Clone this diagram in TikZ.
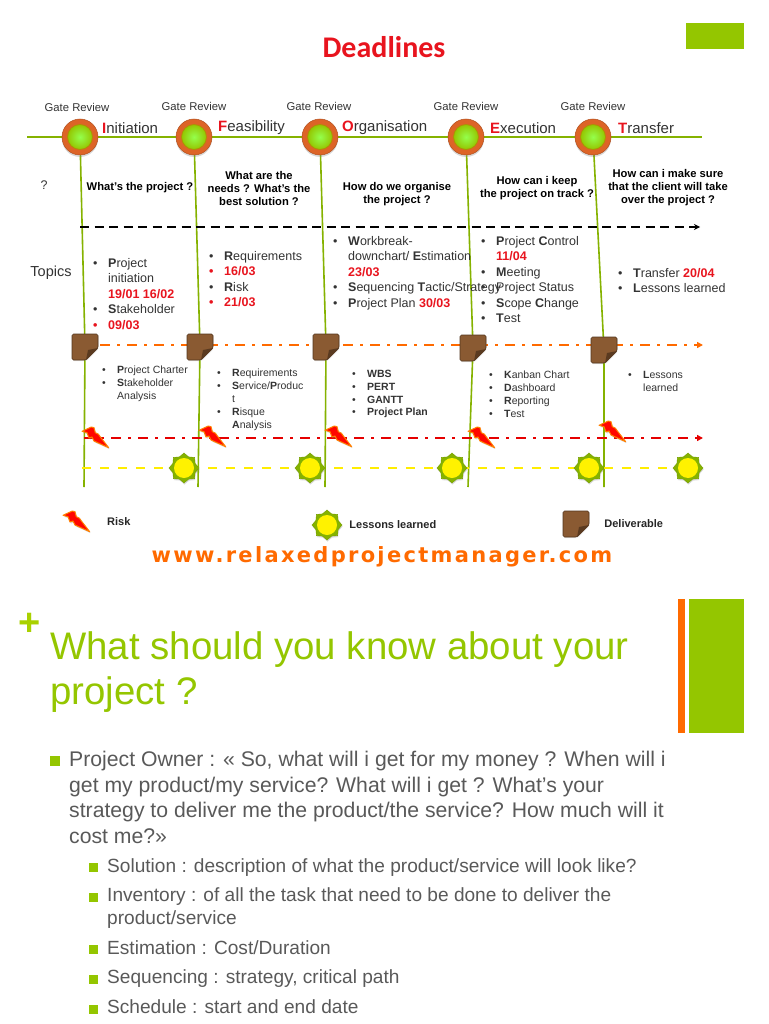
\documentclass[tikz,border=0pt]{standalone}
\usepackage{fontspec}
\setmainfont{Liberation Sans}
\newfontfamily\titlefont{Carlito}
\newfontfamily\webfont[LetterSpace=11]{DejaVu Sans}
\usetikzlibrary{shapes.geometric,positioning,backgrounds,arrows.meta,shadows}

\definecolor{themegreen}{HTML}{94C600}
\definecolor{themeorange}{HTML}{FF6A00}
\definecolor{gateorange}{HTML}{DD6427}
\definecolor{docbrown}{HTML}{8A5A32}
\definecolor{bodygray}{HTML}{595959}
\definecolor{datered}{HTML}{E8141E}

\newcommand{\itm}{\makebox[15pt][l]{\textbullet}}
\newcommand{\ind}{\hspace*{15pt}}
\newcommand{\dte}[1]{\textcolor{datered}{\textbf{#1}}}
\newcommand{\rdl}[1]{\textcolor{datered}{\textbf{#1}}}

\tikzset{
  gatelabel/.style={font=\fontsize{11.3}{13}\selectfont, text=black!80, inner sep=0pt},
  phaselabel/.style={font=\fontsize{15}{17}\selectfont, text=black!80, inner sep=0pt, anchor=west},
  question/.style={font=\fontsize{11.2}{13}\selectfont\bfseries, align=center, inner sep=0pt},
  topics/.style={font=\fontsize{12.5}{15.5}\selectfont, text=black!80, align=left, anchor=north west, inner sep=0pt},
  outputs/.style={font=\fontsize{10.5}{12.8}\selectfont, text=black!80, align=left, anchor=north west, inner sep=0pt},
  legendtext/.style={font=\fontsize{11}{13}\selectfont\bfseries, text=black!85, inner sep=0pt},
  phaseline/.style={themegreen!90!black, line width=1.6pt},
  bodytext/.style={font=\fontsize{21.2}{25.7}\selectfont, text=bodygray, align=left, anchor=north west, inner sep=0pt},
  subtext/.style={font=\fontsize{19.1}{23.5}\selectfont, text=bodygray, align=left, anchor=north west, inner sep=0pt},
  sqbullet/.style={fill=themegreen, minimum size=10pt, inner sep=0pt},
  sqsmall/.style={fill=themegreen, minimum size=9pt, inner sep=0pt},
  gate/.pic={
    \node[circle, minimum size=36pt, inner sep=0pt, fill=gateorange, draw=gateorange!80!black, line width=.5pt,
      drop shadow={opacity=.3, shadow xshift=0pt, shadow yshift=-2pt}] (-ring) {};
    \node[circle, minimum size=25pt, inner sep=0pt, inner color=green!60!yellow!70!white, outer color=themegreen,
      draw=olive!70!orange, line width=.8pt] (-core) {};
  },
  deliverable/.pic={
    \node[minimum size=26pt, inner sep=0pt] (-box) {};
    \fill[docbrown, draw=docbrown!60!black, line width=.6pt, rounded corners=1.5pt, drop shadow={opacity=.2, shadow xshift=.5pt, shadow yshift=-1pt}]
      (-13,-13) -- (13,-13) -- (13,1) -- (1,13) -- (-13,13) -- cycle;
    \fill[docbrown!65!black] (13,1) -- (1,13) -- (3,3) -- cycle;
  },
  bolt/.pic={
    \fill[red!95!orange, draw=orange, line width=1pt, line join=round, drop shadow={opacity=.3, shadow xshift=1pt, shadow yshift=-1.5pt}]
      (-13,-5.7) -- (-3.7,-10) -- (-1,-9.3) -- (.3,-4.3) -- (3.5,-2.7) -- (5,-.5) -- (13.7,10.7)
      -- (-1,4) -- (-3,0) -- (-6,1) -- (-8,-4.3) -- cycle;
  },
  sun/.pic={
    \node[star, star points=8, star point ratio=1.25, minimum size=30pt, inner sep=0pt, fill=themegreen!90!black,
      draw=themegreen!80!black, line width=.4pt, drop shadow={opacity=.3, shadow xshift=.5pt, shadow yshift=-1.5pt}] (-star) {};
    \node[circle, minimum size=20pt, inner sep=0pt, fill=yellow] (-disc) {};
  },
}

\begin{document}
\begin{tikzpicture}[x=1pt, y=-1pt]
\useasboundingbox (0,0) rectangle (768,1024);

% === Header ===
\node[font=\titlefont\fontsize{30}{32}\selectfont\bfseries, text=datered, inner sep=0pt] (title) at (384,47) {Deadlines};
\node[fill=themegreen, minimum width=58pt, minimum height=26pt, inner sep=0pt] (cornerbox) at (715,36) {};

% === Gates ===
\pic (g1) at (80,137) {gate};
\pic (g2) at (194,137) {gate};
\pic (g3) at (320,137) {gate};
\pic (g4) at (466,137) {gate};
\pic (g5) at (593,137) {gate};

\node[gatelabel] (gl1) at (77,107) {Gate Review};
\node[gatelabel] (gl2) at (194,106) {Gate Review};
\node[gatelabel] (gl3) at (319,106) {Gate Review};
\node[gatelabel] (gl4) at (466,106) {Gate Review};
\node[gatelabel] (gl5) at (593,106) {Gate Review};

\node[phaselabel] (ph1) at (102,128) {\textcolor{datered}{\textbf{I}}nitiation};
\node[phaselabel] (ph2) at (218,128) {\textcolor{datered}{\textbf{F}}easibility};
\node[phaselabel] (ph3) at (342,128) {\textcolor{datered}{\textbf{O}}rganisation};
\node[phaselabel] (ph4) at (490,128) {\textcolor{datered}{\textbf{E}}xecution};
\node[phaselabel] (ph5) at (618,128) {\textcolor{datered}{\textbf{T}}ransfer};

% === Questions ===
\node[font=\fontsize{12.5}{14}\selectfont, text=black!80, inner sep=0pt] (qmark) at (44,185) {?};
\node[question] (q1) at (140,188) {What's the project ?};
\node[question] (q2) at (259,188) {What are the\\needs ? What's the\\best solution ?};
\node[question] (q3) at (397,194) {How do we organise\\the project ?};
\node[question] (q4) at (537,188) {How can i keep\\the project on track ?};
\node[question] (q5) at (668,188) {How can i make sure\\that the client will take\\over the project ?};

% === Topics ===
\node[font=\fontsize{14.5}{16}\selectfont, text=black!80, inner sep=0pt] (topiclabel) at (51,273) {Topics};

\node[topics] (t1) at (93,258) {\itm\textbf{P}roject\\\ind initiation\\\ind\dte{19/01 16/02}\\\itm\textbf{S}takeholder\\\rdl{\itm 09/03}};
\node[topics] (t2) at (209,251) {\itm\textbf{R}equirements\\\rdl{\itm 16/03}\\\itm\textbf{R}isk\\\rdl{\itm 21/03}};
\node[topics] (t3) at (333,236) {\itm\textbf{W}orkbreak-\\\ind downchart/ \textbf{E}stimation\\\ind\dte{23/03}\\\itm\textbf{S}equencing \textbf{T}actic/Strategy\\\itm\textbf{P}roject Plan \dte{30/03}};
\node[topics] (t4) at (481,236) {\itm\textbf{P}roject \textbf{C}ontrol\\\ind\dte{11/04}\\\itm\textbf{M}eeting\\\itm Project Status\\\itm\textbf{S}cope \textbf{C}hange\\\itm\textbf{T}est};
\node[topics] (t5) at (618,268) {\itm\textbf{T}ransfer \dte{20/04}\\\itm\textbf{L}essons learned};

% === Deliverables ===
\pic (d1) at (85,347) {deliverable};
\pic (d2) at (200,347) {deliverable};
\pic (d3) at (326,347) {deliverable};
\pic (d4) at (473,348) {deliverable};
\pic (d5) at (604,350) {deliverable};

\node[outputs] (o1) at (102,366) {\itm\textbf{P}roject Charter\\\itm\textbf{S}takeholder\\\ind Analysis};
\node[outputs] (o2) at (217,369) {\itm\textbf{R}equirements\\\itm\textbf{S}ervice/\textbf{P}roduc\\\ind t\\\itm\textbf{R}isque\\\ind\textbf{A}nalysis};
\node[outputs] (o3) at (352,370) {\itm\textbf{WBS}\\\itm\textbf{PERT}\\\itm\textbf{GANTT}\\\itm\textbf{Project Plan}};
\node[outputs] (o4) at (489,371) {\itm\textbf{K}anban Chart\\\itm\textbf{D}ashboard\\\itm\textbf{R}eporting\\\itm\textbf{T}est};
\node[outputs] (o5) at (628,371) {\itm\textbf{L}essons\\\ind learned};

% === Risks and lessons ===
\pic (b1) at (95,437) {bolt};
\pic (b2) at (212,436) {bolt};
\pic (b3) at (338,436) {bolt};
\pic (b4) at (481,437) {bolt};
\pic (b5) at (612,431) {bolt};

\pic (s1) at (184,468) {sun};
\pic (s2) at (310,468) {sun};
\pic (s3) at (452,468) {sun};
\pic (s4) at (589,468) {sun};
\pic (s5) at (688,468) {sun};

% === Connectors, behind the icons ===
\coordinate (phStart) at (27,137);
\coordinate (phEnd) at (702,137);
\coordinate (e1) at (84,487);
\coordinate (e2) at (198,487);
\coordinate (e3) at (325,487);
\coordinate (e4) at (468,487);
\coordinate (e5) at (604,487);
\coordinate (blackStart) at (80,227);
\coordinate (blackEnd) at (700,227);
\coordinate (orangeStart) at (100,345);
\coordinate (orangeEnd) at (703,345);
\coordinate (redStart) at (84,438);
\coordinate (redEnd) at (703,438);
\coordinate (yellowStart) at (82,468);

\begin{scope}[on background layer]
\draw[phaseline] (phStart) -- (phEnd);
\draw[phaseline] (g1-ring) -- (d1-box) -- (e1);
\draw[phaseline] (g2-ring) -- (d2-box) -- (e2);
\draw[phaseline] (g3-ring) -- (d3-box) -- (e3);
\draw[phaseline] (g4-ring) -- (d4-box) -- (e4);
\draw[phaseline] (g5-ring) -- (d5-box) -- (e5);
\draw[black, line width=1.6pt, dash pattern=on 9pt off 5.5pt, -{Stealth[length=6pt, width=6pt]}] (blackStart) -- (blackEnd);
\draw[themeorange, line width=2.5pt, dash pattern=on 10pt off 7pt on 3pt off 7pt, -{Triangle[length=6pt, width=6pt]}] (orangeStart) -- (orangeEnd);
\draw[red!90!black, line width=2.5pt, dash pattern=on 10pt off 7pt on 3pt off 7pt, -{Triangle[length=6pt, width=6pt]}] (redStart) -- (redEnd);
\draw[yellow!95!orange, line width=2pt, dash pattern=on 9pt off 9pt] (yellowStart) -- (s5-star);
\end{scope}

% === Legend ===
\pic (bL) at (76,521) {bolt};
\node[legendtext, anchor=west] (riskL) at (107,522) {Risk};
\pic (sL) at (327,525) {sun};
\node[legendtext, right=7pt of sL-star] (sunL) {Lessons learned};
\pic (dL) at (576,524) {deliverable};
\node[legendtext, right=15pt of dL-box] (docL) {Deliverable};

\node[font=\webfont\fontsize{21}{23}\selectfont\bfseries, text=themeorange, inner sep=0pt] (web) at (382,557) {www.relaxedprojectmanager.com};

% === Second slide ===
\node[font=\fontsize{38}{40}\selectfont\bfseries, text=themegreen!80!yellow, inner sep=0pt] (plus) at (30,624) {+};
\node[fill=themeorange, minimum width=7pt, minimum height=134pt, inner sep=0pt] (barA) at (681.5,666) {};
\node[fill=themegreen, minimum width=55pt, minimum height=134pt, inner sep=0pt] (barB) at (716.5,666) {};

\node[font=\fontsize{38.4}{45.5}\selectfont, text=themegreen, align=left, anchor=north west, inner sep=0pt] (head) at (50,631) {What should you know about your\\project ?};

\node[sqbullet] (sq0) at (55,761) {};
\node[bodytext] (para) at (69,751) {Project Owner : « So, what will i get for my money ? When will i\\get my product/my service? What will i get ? What’s your\\strategy to deliver me the product/the service? How much will it\\cost me?»};

\node[sqsmall] (sq1) at (93,867) {};
\node[subtext] (sub1) at (107,858) {Solution : description of what the product/service will look like?};
\node[sqsmall] (sq2) at (93,897) {};
\node[subtext] (sub2) at (107,887) {Inventory : of all the task that need to be done to deliver the\\product/service};
\node[sqsmall] (sq3) at (93,949) {};
\node[subtext] (sub3) at (107,940) {Estimation : Cost/Duration};
\node[sqsmall] (sq4) at (93,979) {};
\node[subtext] (sub4) at (107,969) {Sequencing : strategy, critical path};
\node[sqsmall] (sq5) at (93,1009) {};
\node[subtext] (sub5) at (107,999) {Schedule : start and end date};

\end{tikzpicture}
\end{document}
